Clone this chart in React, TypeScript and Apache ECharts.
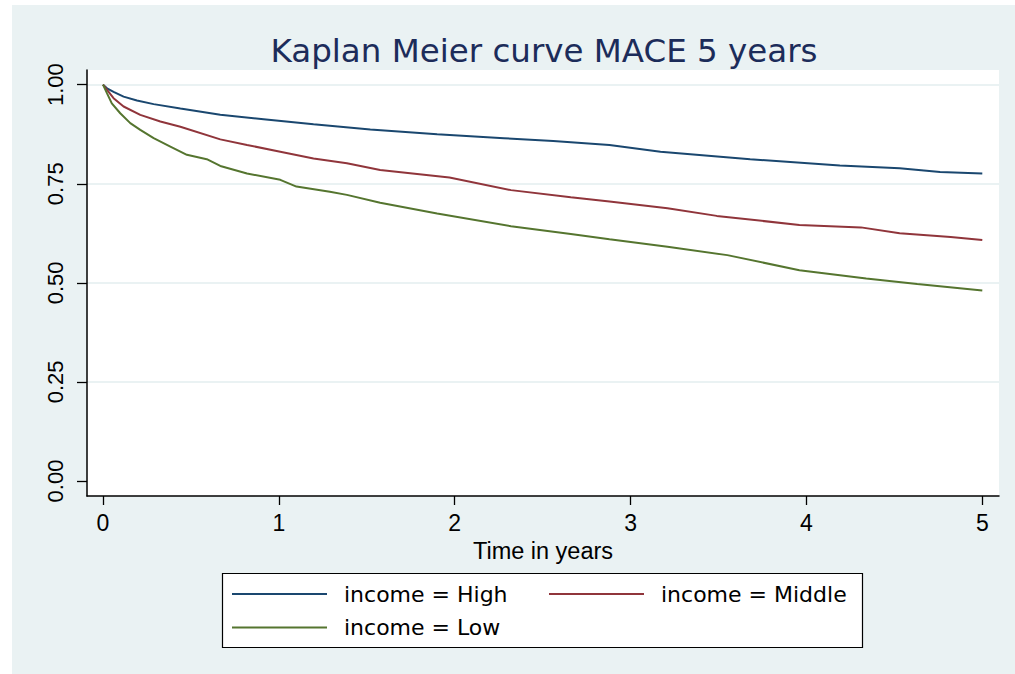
import React, { useEffect, useRef } from "react";
import * as echarts from "echarts";

const titleText = "Kaplan Meier curve MACE 5 years";
const xAxisName = "Time in years";
const xTicks = [0, 1, 2, 3, 4, 5];
const yTicks = [0, 0.25, 0.5, 0.75, 1];
const yGridValues = [0.25, 0.5, 0.75, 1];

const seriesNames = ["income = High", "income = Middle", "income = Low"];
const seriesColors = ["#1a476f", "#90353b", "#55752f"];

const highT = [0, 0.023, 0.06, 0.117, 0.193, 0.288, 0.44, 0.667, 0.913, 1.197, 1.52, 1.9, 2.28, 2.56, 2.88, 3.17, 3.68, 4.19, 4.53, 4.76, 5.0];
const highS = [1.0, 0.991, 0.982, 0.97, 0.96, 0.951, 0.94, 0.924, 0.913, 0.9, 0.887, 0.875, 0.865, 0.858, 0.848, 0.831, 0.812, 0.796, 0.789, 0.78, 0.776];

const midT = [0, 0.023, 0.06, 0.117, 0.212, 0.326, 0.44, 0.667, 0.819, 1.008, 1.197, 1.387, 1.576, 1.97, 2.32, 2.66, 2.88, 3.21, 3.49, 3.96, 4.31, 4.53, 4.82, 5.0];
const midS = [1.0, 0.987, 0.966, 0.945, 0.924, 0.907, 0.894, 0.862, 0.848, 0.831, 0.814, 0.802, 0.785, 0.766, 0.734, 0.716, 0.705, 0.688, 0.669, 0.646, 0.64, 0.625, 0.616, 0.608];

const lowT = [0, 0.023, 0.05, 0.098, 0.155, 0.212, 0.288, 0.383, 0.477, 0.59, 0.667, 0.819, 1.008, 1.1, 1.29, 1.387, 1.576, 1.9, 2.32, 2.66, 2.88, 3.21, 3.55, 3.96, 4.34, 4.63, 5.0];
const lowS = [1.0, 0.978, 0.953, 0.928, 0.903, 0.886, 0.865, 0.844, 0.823, 0.812, 0.795, 0.776, 0.76, 0.743, 0.73, 0.722, 0.702, 0.675, 0.643, 0.623, 0.61, 0.591, 0.57, 0.532, 0.511, 0.497, 0.481];

const pairs = (t: number[], s: number[]) => t.map((v, i) => [v, s[i]]);

export default function App() {
  const ref = useRef<HTMLDivElement>(null);
  useEffect(() => {
    if (!ref.current) return;
    const chart = echarts.init(ref.current, null, { renderer: "svg" });
    const legendText = {
      fontFamily: "DejaVu Sans",
      fontSize: 22,
      lineHeight: 22,
      color: "#000",
      padding: [6, 0, 0, 12],
    };
    const yMin = -0.0378;
    const yMax = 1.0371;
    chart.setOption({
      animation: false,
      backgroundColor: "#ffffff",
      title: {
        text: titleText,
        left: 539,
        top: 30,
        textAlign: "center",
        textStyle: {
          fontFamily: "DejaVu Sans",
          fontSize: 32.5,
          lineHeight: 32,
          fontWeight: "normal",
          color: "#1c2c5a",
        },
      },
      graphic: [
        {
          type: "rect",
          z: -100,
          silent: true,
          shape: { x: 12, y: 5, width: 1003, height: 669 },
          style: { fill: "#eaf2f3" },
        },
        {
          type: "rect",
          z: 1,
          silent: true,
          shape: { x: 222.5, y: 573.5, width: 640, height: 74 },
          style: { fill: "#ffffff", stroke: "#000000", lineWidth: 1.2 },
        },
      ],
      legend: [
        {
          data: [seriesNames[0], seriesNames[2]],
          orient: "vertical",
          left: 232,
          top: 580,
          padding: 0,
          itemGap: 5.5,
          itemWidth: 95,
          itemHeight: 2,
          icon: "rect",
          z: 5,
          textStyle: legendText,
        },
        {
          data: [seriesNames[1]],
          orient: "vertical",
          left: 549,
          top: 580,
          padding: 0,
          itemWidth: 95,
          itemHeight: 2,
          icon: "rect",
          z: 5,
          textStyle: legendText,
        },
      ],
      grid: {
        left: 87,
        right: 16,
        top: 70,
        bottom: 178,
        show: true,
        backgroundColor: "#ffffff",
        borderWidth: 0,
      },
      xAxis: {
        type: "value",
        min: -0.091,
        max: 5.095,
        name: xAxisName,
        nameLocation: "middle",
        nameGap: 31,
        nameTextStyle: { fontFamily: "Liberation Sans", fontSize: 23.5, color: "#000" },
        axisLine: { show: true, onZero: false, lineStyle: { color: "#000", width: 1.5 } },
        axisTick: { show: true, length: 9, customValues: xTicks, lineStyle: { color: "#000", width: 1.3 } },
        axisLabel: {
          customValues: xTicks,
          fontFamily: "Liberation Sans",
          fontSize: 23,
          color: "#000",
          margin: 15,
        },
        splitLine: { show: false },
      },
      yAxis: [
        {
          type: "value",
          min: yMin,
          max: yMax,
          z: 2,
          axisLine: { show: true, onZero: false, lineStyle: { color: "#000", width: 1.5 } },
          axisTick: { show: true, length: 10, customValues: yTicks, lineStyle: { color: "#000", width: 1.3 } },
          axisLabel: {
            customValues: yTicks,
            rotate: 90,
            formatter: (v: number) => v.toFixed(2),
            fontFamily: "Liberation Sans",
            fontSize: 22,
            color: "#000",
            margin: 21,
          },
          splitLine: { show: false },
        },
        {
          type: "value",
          position: "left",
          min: yMin,
          max: yMax,
          z: 1,
          axisLine: { show: false },
          axisTick: { show: false, customValues: yGridValues },
          axisLabel: { show: false, customValues: yGridValues },
          splitLine: { show: true, lineStyle: { color: "#eaf2f3", width: 2 } },
        },
      ],
      series: [
        { name: seriesNames[0], data: pairs(highT, highS) },
        { name: seriesNames[1], data: pairs(midT, midS) },
        { name: seriesNames[2], data: pairs(lowT, lowS) },
      ].map((s, i) => ({
        ...s,
        type: "line",
        yAxisIndex: 0,
        showSymbol: false,
        symbol: "none",
        color: seriesColors[i],
        lineStyle: { color: seriesColors[i], width: 2 },
        z: 3,
      })),
    });
    return () => chart.dispose();
  }, []);
  return (
    <div
      ref={ref}
      style={{ position: "absolute", left: 0, top: 0, width: 1015, height: 674 }}
    />
  );
}
